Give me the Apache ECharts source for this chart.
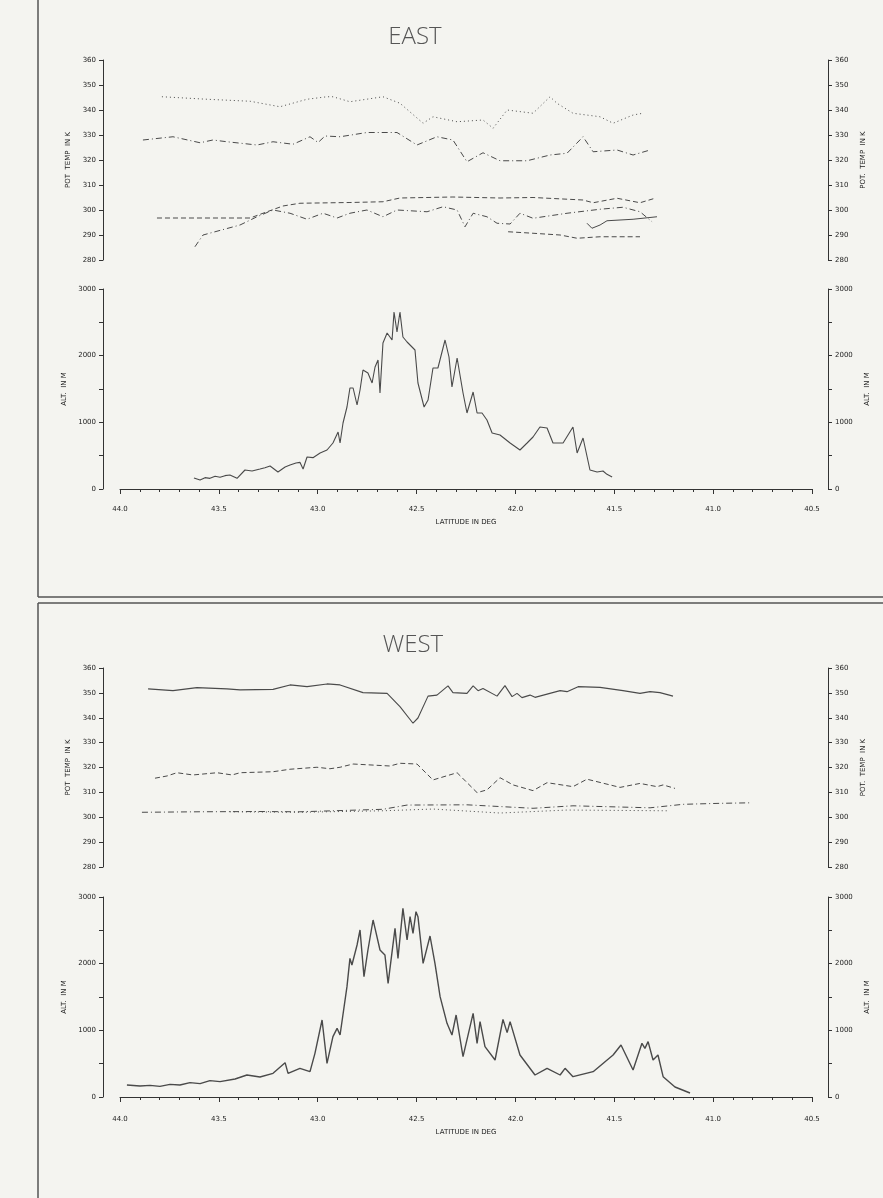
<!DOCTYPE html>
<html>
<head>
<meta charset="utf-8">
<script src="https://cdn.jsdelivr.net/npm/echarts@6/dist/echarts.min.js"></script>
<style>
html,body{margin:0;padding:0;background:#f4f4f0;}
#chart{width:883px;height:1198px;}
</style>
</head>
<body>
<div id="chart"></div>
<script>
// ---------- DATA (latitude in deg, value) ----------
const latTicks = [44.0, 43.5, 43.0, 42.5, 42.0, 41.5, 41.0, 40.5];
const tempTicks = [280, 290, 300, 310, 320, 330, 340, 350, 360];
const altTicks = [0, 1000, 2000, 3000];

// EAST: terrain altitude (m)
const eastAlt = [[43.626,165],[43.595,135],[43.570,170],[43.545,160],[43.519,190],[43.494,175],[43.469,200],[43.444,210],[43.408,160],[43.368,285],[43.332,270],[43.292,300],[43.267,320],[43.241,345],[43.201,255],[43.165,330],[43.140,360],[43.110,390],[43.090,400],[43.074,300],[43.054,480],[43.024,470],[42.988,540],[42.953,585],[42.923,690],[42.897,855],[42.887,690],[42.872,990],[42.852,1230],[42.837,1515],[42.821,1515],[42.801,1260],[42.786,1485],[42.771,1785],[42.746,1740],[42.725,1590],[42.710,1830],[42.695,1935],[42.685,1440],[42.670,2190],[42.649,2340],[42.624,2235],[42.614,2655],[42.599,2355],[42.584,2655],[42.569,2280],[42.548,2205],[42.523,2130],[42.508,2085],[42.493,1590],[42.462,1230],[42.442,1335],[42.417,1815],[42.392,1815],[42.356,2235],[42.336,1980],[42.321,1530],[42.295,1965],[42.265,1440],[42.245,1140],[42.214,1455],[42.194,1140],[42.169,1140],[42.144,1035],[42.118,840],[42.078,810],[42.027,690],[41.977,585],[41.941,690],[41.911,780],[41.876,930],[41.840,915],[41.810,690],[41.759,690],[41.709,930],[41.688,540],[41.658,765],[41.623,285],[41.587,255],[41.557,270],[41.537,220],[41.511,180]];

// EAST: potential temperature (K)
const eastT1 = [[43.788,345.3],[43.560,344.3],[43.342,343.5],[43.191,341.3],[43.054,344.3],[42.953,345.3],[42.923,345.3],[42.837,343.3],[42.670,345.3],[42.584,342.7],[42.467,334.7],[42.417,337.3],[42.295,335.3],[42.164,336.0],[42.113,332.7],[42.042,340.0],[41.911,338.7],[41.825,345.3],[41.790,342.7],[41.709,338.7],[41.572,337.3],[41.506,334.7],[41.405,338.0],[41.355,338.7]];
const eastT2 = [[43.884,328.0],[43.732,329.3],[43.595,326.9],[43.530,328.0],[43.459,327.3],[43.307,326.0],[43.226,327.3],[43.125,326.3],[43.039,329.3],[42.998,327.0],[42.963,329.6],[42.887,329.3],[42.751,331.0],[42.599,331.0],[42.498,326.0],[42.397,329.3],[42.316,328.0],[42.245,319.3],[42.164,322.9],[42.078,319.7],[41.941,319.7],[41.825,322.0],[41.739,322.7],[41.658,329.3],[41.607,323.3],[41.486,324.0],[41.405,322.0],[41.319,324.0]];
const eastT3 = [[43.813,296.8],[43.342,296.8],[43.256,299.3],[43.176,301.6],[43.090,302.7],[42.837,303.0],[42.670,303.3],[42.584,304.8],[42.316,305.2],[42.078,304.8],[41.911,305.0],[41.658,304.0],[41.607,302.9],[41.486,304.7],[41.370,302.9],[41.294,304.7]];
const eastT4 = [[43.621,285.3],[43.580,290.0],[43.393,294.0],[43.307,297.3],[43.226,300.0],[43.140,298.7],[43.054,296.3],[42.973,298.7],[42.902,296.8],[42.837,298.7],[42.751,300.0],[42.670,297.3],[42.599,300.0],[42.447,299.3],[42.366,301.3],[42.295,300.0],[42.255,293.3],[42.214,298.7],[42.144,297.3],[42.093,294.7],[42.027,294.4],[41.977,298.7],[41.911,296.7],[41.739,298.7],[41.572,300.3],[41.456,301.1],[41.370,299.3],[41.309,295.3]];
const eastT5 = [[41.638,294.7],[41.613,292.7],[41.572,294.0],[41.537,295.7],[41.405,296.3],[41.284,297.3]];
const eastT6 = [[42.037,291.3],[41.911,290.7],[41.774,290.0],[41.688,288.7],[41.572,289.3],[41.370,289.3]];

// WEST: terrain altitude (m)
const westAlt = [[43.965,180],[43.899,165],[43.848,175],[43.798,160],[43.747,190],[43.697,180],[43.646,215],[43.595,200],[43.545,245],[43.494,230],[43.418,270],[43.358,330],[43.292,300],[43.226,355],[43.165,515],[43.150,355],[43.090,430],[43.039,380],[43.014,655],[42.978,1155],[42.953,505],[42.923,905],[42.902,1030],[42.887,930],[42.852,1655],[42.837,2080],[42.827,1980],[42.801,2280],[42.786,2505],[42.766,1805],[42.746,2205],[42.720,2655],[42.710,2530],[42.685,2205],[42.660,2130],[42.644,1705],[42.609,2530],[42.594,2080],[42.569,2830],[42.548,2355],[42.533,2705],[42.518,2455],[42.503,2780],[42.493,2705],[42.467,2005],[42.432,2415],[42.407,2005],[42.381,1505],[42.346,1105],[42.321,930],[42.300,1230],[42.265,605],[42.214,1255],[42.194,805],[42.179,1130],[42.154,755],[42.103,555],[42.063,1165],[42.042,965],[42.027,1130],[41.977,630],[41.901,330],[41.840,430],[41.774,330],[41.749,430],[41.709,305],[41.607,380],[41.506,630],[41.466,780],[41.405,405],[41.360,805],[41.345,730],[41.329,830],[41.304,555],[41.279,630],[41.253,305],[41.193,150],[41.117,60]];

// WEST: potential temperature (K)
const westT1 = [[43.858,351.6],[43.732,350.9],[43.611,352.1],[43.459,351.6],[43.393,351.2],[43.226,351.4],[43.140,353.2],[43.054,352.5],[42.953,353.6],[42.887,353.2],[42.771,350.1],[42.649,349.8],[42.584,344.5],[42.518,337.8],[42.493,339.9],[42.442,348.7],[42.397,349.1],[42.341,352.8],[42.316,350.1],[42.245,349.8],[42.214,352.8],[42.189,350.9],[42.164,351.8],[42.093,348.7],[42.053,352.9],[42.017,348.5],[41.992,349.8],[41.967,348.1],[41.926,349.1],[41.901,348.2],[41.774,350.9],[41.739,350.5],[41.683,352.5],[41.572,352.2],[41.456,350.9],[41.370,349.8],[41.319,350.5],[41.269,350.1],[41.203,348.7]];
const westT2 = [[43.823,315.7],[43.762,316.6],[43.712,317.9],[43.631,317.0],[43.509,317.9],[43.433,317.0],[43.393,317.9],[43.226,318.3],[43.140,319.3],[43.004,320.1],[42.938,319.5],[42.887,320.1],[42.821,321.4],[42.634,320.6],[42.584,321.7],[42.498,321.4],[42.417,315.0],[42.295,317.9],[42.194,309.9],[42.144,311.0],[42.078,315.9],[42.012,313.0],[41.911,310.7],[41.840,313.9],[41.709,312.3],[41.638,315.3],[41.471,312.0],[41.370,313.6],[41.284,312.3],[41.253,313.0],[41.193,311.6]];
const westT3 = [[43.889,302.0],[43.595,302.2],[43.292,302.3],[43.090,302.2],[42.670,303.2],[42.548,304.9],[42.245,305.0],[41.911,303.6],[41.709,304.6],[41.319,303.8],[41.152,305.2],[40.965,305.6],[40.813,305.8]];
const westT4 = [[43.444,302.2],[43.090,302.0],[42.670,302.6],[42.417,303.3],[42.078,301.7],[41.739,302.9],[41.233,302.6]];

// ---------- CHART ----------
const INK = '#4a4a4a';
const AX = '#333';
const LBL = '#222';
const FONT = 'DejaVu Sans';
const LEFT = 120, WIDTH = 692;

const grids = [
  {left: LEFT, width: WIDTH, top: 60, height: 200},
  {left: LEFT, width: WIDTH, top: 289, height: 200},
  {left: LEFT, width: WIDTH, top: 668, height: 199},
  {left: LEFT, width: WIDTH, top: 897, height: 200}
];

function xAx(gi, show, offset) {
  return {
    type: 'value', gridIndex: gi, min: latTicks[latTicks.length-1], max: latTicks[0],
    inverse: true, interval: 0.5, show: show, offset: offset,
    axisLine: {show: true, lineStyle: {color: AX, width: 1}},
    axisTick: {show: true, length: 5, lineStyle: {color: AX}},
    minorTick: {show: true, splitNumber: 5, length: 3, lineStyle: {color: AX}},
    splitLine: {show: false},
    axisLabel: {fontSize: 7, fontFamily: FONT, color: LBL, margin: 4,
      formatter: v => v.toFixed(1)},
    name: 'LATITUDE IN DEG', nameLocation: 'middle', nameGap: 17,
    nameTextStyle: {fontSize: 7, fontFamily: FONT, color: LBL}
  };
}
function yAx(gi, pos, kind) {
  const isT = kind === 'T';
  const name = isT ? (pos === 'left' ? 'POT  TEMP  IN K' : 'POT.  TEMP  IN K') : 'ALT.  IN M';
  return {
    type: 'value', gridIndex: gi, position: pos, offset: pos === 'left' ? 17 : 16,
    min: isT ? tempTicks[0] : altTicks[0], max: isT ? tempTicks[tempTicks.length-1] : altTicks[altTicks.length-1],
    interval: isT ? 10 : 1000,
    axisLine: {show: true, lineStyle: {color: AX, width: 1}},
    axisTick: {show: true, length: 4, lineStyle: {color: AX}},
    minorTick: {show: !isT, splitNumber: 2, length: 4, lineStyle: {color: AX}},
    splitLine: {show: false},
    axisLabel: {fontSize: 7, fontFamily: FONT, color: LBL, margin: 7,
      formatter: v => String(v)},
    name: name, nameLocation: 'middle', nameRotate: 90,
    nameGap: pos === 'left' ? 27 : 30,
    nameTextStyle: {fontSize: 7, fontFamily: FONT, color: LBL}
  };
}
function ser(data, xi, yi, type, width) {
  return {
    type: 'line', data: data, xAxisIndex: xi, yAxisIndex: yi,
    showSymbol: false, symbol: 'none', silent: true, animation: false,
    lineStyle: {color: INK, width: width || 1, type: type}
  };
}

const DOT = [1, 3];
const DASHDOT = [6, 3, 1, 3];
const DASH = [5, 3];

const option = {
  backgroundColor: '#f4f4f0',
  animation: false,
  title: [
    {text: 'EAST', left: 410, top: 20, textAlign: 'center',
     textStyle: {fontSize: 24, fontWeight: 'lighter', fontFamily: 'Open Sans', color: '#555'}},
    {text: 'WEST', left: 408, top: 628, textAlign: 'center',
     textStyle: {fontSize: 24, fontWeight: 'lighter', fontFamily: 'Open Sans', color: '#555'}}
  ],
  grid: grids,
  xAxis: [xAx(0, false, 0), xAx(1, true, 13), xAx(2, false, 0), xAx(3, true, 15)],
  yAxis: [yAx(0,'left','T'), yAx(0,'right','T'), yAx(1,'left','A'), yAx(1,'right','A'),
          yAx(2,'left','T'), yAx(2,'right','T'), yAx(3,'left','A'), yAx(3,'right','A')],
  series: [
    ser(eastT1, 0, 0, DOT), ser(eastT2, 0, 0, DASHDOT), ser(eastT3, 0, 0, DASH),
    ser(eastT4, 0, 0, DASHDOT), ser(eastT5, 0, 0, 'solid'), ser(eastT6, 0, 0, DASH),
    ser(eastAlt, 1, 2, 'solid', 1.1),
    ser(westT1, 2, 4, 'solid', 1.1), ser(westT2, 2, 4, DASH), ser(westT3, 2, 4, DASHDOT),
    ser(westT4, 2, 4, DOT),
    ser(westAlt, 3, 6, 'solid', 1.4)
  ],
  graphic: [
    {type: 'line', shape: {x1: 38, y1: 0, x2: 38, y2: 597}, style: {stroke: '#555', lineWidth: 1.5}},
    {type: 'line', shape: {x1: 38, y1: 597, x2: 883, y2: 597}, style: {stroke: '#555', lineWidth: 1.5}},
    {type: 'line', shape: {x1: 38, y1: 603, x2: 883, y2: 603}, style: {stroke: '#555', lineWidth: 1.5}},
    {type: 'line', shape: {x1: 38, y1: 603, x2: 38, y2: 1198}, style: {stroke: '#555', lineWidth: 1.5}}
  ]
};

const chart = echarts.init(document.getElementById('chart'), null, {renderer: 'canvas'});
chart.setOption(option);
</script>
</body>
</html>
